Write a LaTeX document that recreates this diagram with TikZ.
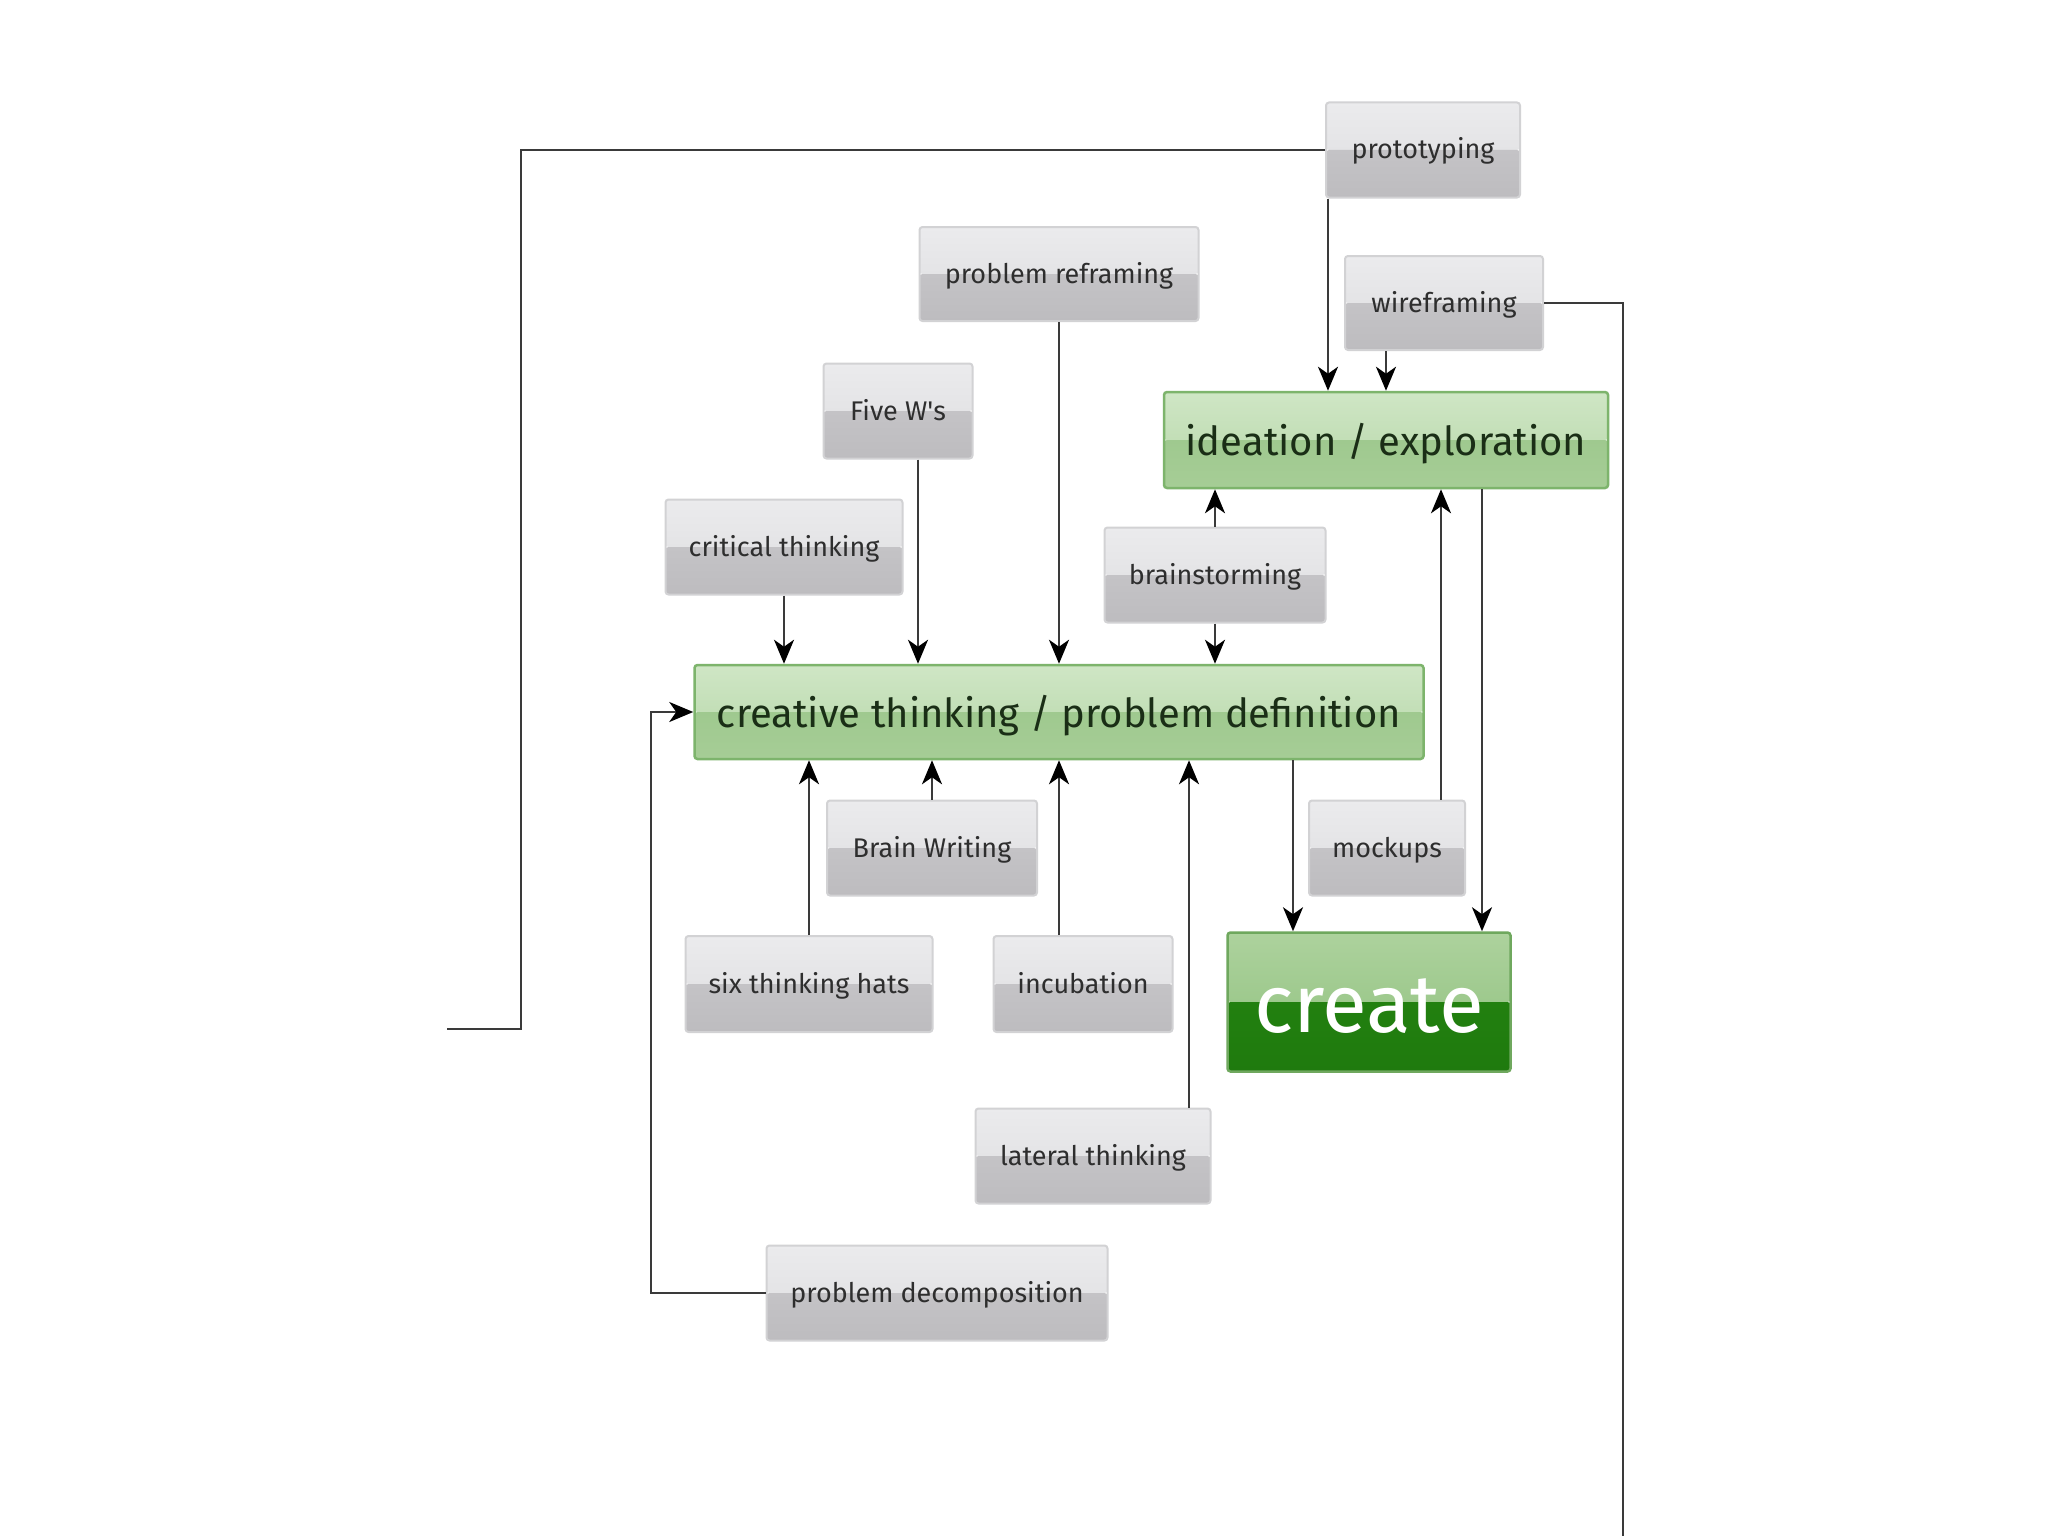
\documentclass[tikz,border=0pt]{standalone}
\usepackage{fontspec}
\setmainfont{Fira Sans}
\usetikzlibrary{arrows.meta}
\definecolor{gtop}{HTML}{EBEBED}
\definecolor{gmid}{HTML}{DDDDDF}
\definecolor{glowa}{HTML}{C4C3C6}
\definecolor{glowb}{HTML}{BDBCBF}
\definecolor{gborder}{HTML}{D2D2D4}
\definecolor{ltop}{HTML}{CFE6C5}
\definecolor{lmid}{HTML}{B6D7A8}
\definecolor{llowa}{HTML}{9FC98F}
\definecolor{llowb}{HTML}{A6CD96}
\definecolor{lborder}{HTML}{7DB46C}
\definecolor{ctop}{HTML}{ADD29D}
\definecolor{cmid}{HTML}{8EC07D}
\definecolor{clowa}{HTML}{22800F}
\definecolor{clowb}{HTML}{1F7A0E}
\definecolor{cborder}{HTML}{6FA85E}
\definecolor{gtext}{HTML}{2E2E2E}
\definecolor{ltext}{HTML}{1A2E16}
\definecolor{linec}{HTML}{3A3A3A}
\tikzset{
  graybox/.style={draw=gborder, line width=2pt, rounded corners=3pt, inner sep=0pt,
    text=gtext, font=\fontsize{27}{30}\selectfont, text height=18pt, text depth=0pt,
    path picture={
      \shade[top color=gtop, bottom color=gmid] (path picture bounding box.north west) rectangle (path picture bounding box.east);
      \shade[top color=glowa, bottom color=glowb] (path picture bounding box.west) rectangle (path picture bounding box.south east);
    }},
  greenbox/.style={draw=lborder, line width=2.5pt, rounded corners=3pt, inner sep=0pt,
    text=ltext, font=\fontsize{40}{44}\selectfont, text height=31pt, text depth=0pt,
    path picture={
      \shade[top color=ltop, bottom color=lmid] (path picture bounding box.north west) rectangle (path picture bounding box.east);
      \shade[top color=llowa, bottom color=llowb] (path picture bounding box.west) rectangle (path picture bounding box.south east);
    }},
  createbox/.style={draw=cborder, line width=2.5pt, rounded corners=3pt, inner sep=0pt,
    text=white, font=\fontsize{82}{90}\selectfont, text height=61pt, text depth=0pt,
    path picture={
      \shade[top color=ctop, bottom color=cmid] (path picture bounding box.north west) rectangle (path picture bounding box.east);
      \shade[top color=clowa, bottom color=clowb] (path picture bounding box.west) rectangle (path picture bounding box.south east);
    }},
  conn/.style={draw=linec, line width=2.5pt},
  arr/.style={conn, -{Stealth[length=24pt, width=20pt, inset=7pt, black]}},
}
\begin{document}
\begin{tikzpicture}[x=1pt, y=-1pt]
\useasboundingbox (0,0) rectangle (2048,1536);
\fill[white] (0,0) rectangle (2048,1536);

\node[graybox, minimum width=194pt, minimum height=95pt] (proto) at (1423,150) {prototyping};
\node[graybox, minimum width=279pt, minimum height=94pt] (reframe) at (1059,274) {problem reframing};
\node[graybox, minimum width=198pt, minimum height=94pt] (wire) at (1444,303) {wireframing};
\node[graybox, minimum width=149pt, minimum height=95pt] (fivew) at (898,411) {Five W\textquotesingle s};
\node[greenbox, minimum width=444pt, minimum height=96pt] (idea) at (1386,440) {ideation / exploration};
\node[graybox, minimum width=237pt, minimum height=95pt] (critical) at (784,547) {critical thinking};
\node[graybox, minimum width=221pt, minimum height=95pt] (brainst) at (1215,575) {brainstorming};
\node[greenbox, minimum width=729pt, minimum height=94pt] (creative) at (1059,712) {creative thinking / problem definition};
\node[graybox, minimum width=210pt, minimum height=95pt] (brainw) at (932,848) {Brain Writing};
\node[graybox, minimum width=156pt, minimum height=95pt] (mockups) at (1387,848) {mockups};
\node[graybox, minimum width=247pt, minimum height=96pt] (sixhats) at (809,984) {six thinking hats};
\node[graybox, minimum width=179pt, minimum height=96pt] (incub) at (1083,984) {incubation};
\node[createbox, minimum width=283pt, minimum height=139pt] (create) at (1369,1002) {create};
\node[graybox, minimum width=235pt, minimum height=95pt] (lateral) at (1093,1156) {lateral thinking};
\node[graybox, minimum width=341pt, minimum height=95pt] (decomp) at (937,1293) {problem decomposition};

\coordinate (pk) at (521,1029);
\coordinate (pl) at (447,1029);
\coordinate (dk) at (651,1293);
\coordinate (wfend) at (1623,1536);

% into creative thinking from above
\draw[arr] (critical.south) -- (critical.south |- creative.north);
\draw[arr] ([xshift=20pt]fivew.south) -- ([xshift=20pt]fivew.south |- creative.north);
\draw[arr] (reframe.south) -- (reframe.south |- creative.north);
\draw[arr] (brainst.south) -- (brainst.south |- creative.north);
% into ideation
\draw[arr] (brainst.north) -- (brainst.north |- idea.south);
\draw[arr] ([xshift=3pt]proto.south west) -- ([xshift=3pt]proto.south west |- idea.north);
\draw[arr] ([xshift=-58pt]wire.south) -- ([xshift=-58pt]wire.south |- idea.north);
\draw[arr] ([xshift=54pt]mockups.north) -- ([xshift=54pt]mockups.north |- idea.south);
% into create
\draw[arr] ([xshift=96pt]idea.south) -- ([xshift=96pt]idea.south |- create.north);
\draw[arr] ([xshift=234pt]creative.south) -- ([xshift=234pt]creative.south |- create.north);
% into creative thinking from below
\draw[arr] (sixhats.north) -- (sixhats.north |- creative.south);
\draw[arr] (brainw.north) -- (brainw.north |- creative.south);
\draw[arr] ([xshift=-24pt]incub.north) -- ([xshift=-24pt]incub.north |- creative.south);
\draw[arr] ([xshift=96pt]lateral.north) -- ([xshift=96pt]lateral.north |- creative.south);
\draw[arr] (decomp.west) -- (dk) |- (creative.west);
% free ends
\draw[conn] (proto.west) -| (pk) -- (pl);
\draw[conn] (wire.east) -| (wfend);
\end{tikzpicture}
\end{document}
